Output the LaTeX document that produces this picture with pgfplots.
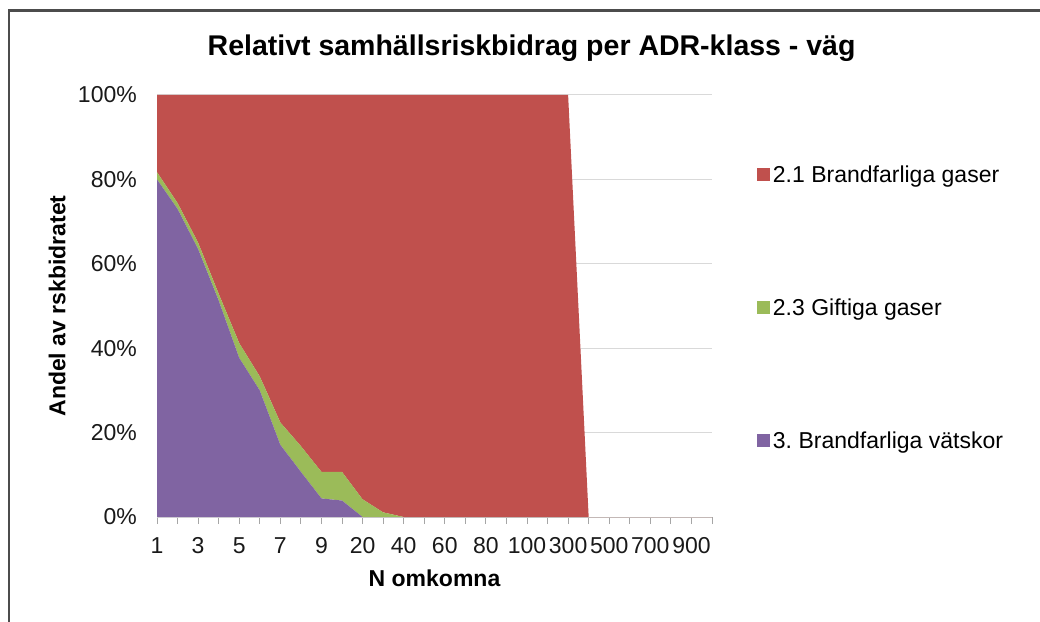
\documentclass[border=0pt]{standalone}
\usepackage{fontspec}
\setmainfont{Liberation Sans}
\usepackage{pgfplots}
\pgfplotsset{compat=1.18}
\definecolor{cRed}{HTML}{C0504D}
\definecolor{cGreen}{HTML}{9BBB59}
\definecolor{cPurple}{HTML}{8064A2}
\definecolor{cGrid}{HTML}{D9D9D9}
\begin{document}
\begin{tikzpicture}
\path[use as bounding box] (0pt,0pt) rectangle (1040pt,621pt);
\draw[line width=2.5pt, color=black!70] (9pt,-5pt) -- (9pt,610.5pt) -- (1045pt,610.5pt);
\begin{axis}[
  at={(157pt,104pt)}, anchor=south west,
  scale only axis, width=555pt, height=422pt,
  xmin=0, xmax=27, ymin=0, ymax=100,
  stack plots=y,
  xtick={0,...,27},
  xticklabels={1,,3,,5,,7,,9,,20,,40,,60,,80,,100,,300,,500,,700,,900,},
  ytick={0,20,40,60,80,100},
  yticklabels={0\%,20\%,40\%,60\%,80\%,100\%},
  axis x line*=bottom, axis y line*=left,
  y axis line style={draw=none},
  x axis line style={draw=cGrid, line width=1pt, -},
  ymajorgrids, grid style={draw=cGrid, line width=1pt},
  tick align=outside,
  major tick length=7pt,
  xtick style={draw=black!35, line width=0.8pt},
  ytick style={draw=none},
  tick label style={font=\fontsize{23}{27}\selectfont, text=black!90},
  yticklabel style={inner sep=0pt, xshift=-13pt},
  xticklabel style={inner sep=0pt, yshift=-13pt},
  xlabel={N omkomna},
  ylabel={Andel av rskbidratet},
  label style={font=\bfseries\fontsize{23}{27}\selectfont},
  xlabel style={at={(axis description cs:0.5,-0.1445)}, anchor=center},
  ylabel style={at={(axis description cs:-0.18,0.5)}, anchor=center, rotate=0},
  title={Relativt samhällsriskbidrag per ADR-klass - väg},
  title style={font=\bfseries\fontsize{28.5}{33}\selectfont, at={(axis description cs:0.675,1.097)}, anchor=center},
  legend style={at={(axis description cs:1.081,0.833)}, anchor=north west, draw=none, fill=none,
    inner sep=0pt, outer sep=0pt, row sep=115pt,
    nodes={inner sep=0pt}, font=\fontsize{23}{27}\selectfont,
    /tikz/every odd column/.append style={column sep=3pt}},
  legend cell align=left,
  reverse legend,
  legend image code/.code={\fill[#1] (0pt,-6.5pt) rectangle (13pt,6.5pt);},
]
\addplot[fill=cPurple, draw=none] coordinates {
(0,80.0) (1,73.0) (2,63.5) (3,51.3) (4,37.7) (5,30.0) (6,17.1) (7,10.7) (8,4.4) (9,3.9)
(10,0) (11,0) (12,0) (13,0) (14,0) (15,0) (16,0) (17,0) (18,0) (19,0) (20,0)
(21,0) (22,0) (23,0) (24,0) (25,0) (26,0) (27,0)} \closedcycle;
\addlegendentry{3.\ Brandfarliga vätskor}
\addplot[fill=cGreen, draw=none] coordinates {
(0,1.7) (1,1.4) (2,1.5) (3,1.6) (4,3.5) (5,3.3) (6,5.3) (7,6.1) (8,6.3) (9,6.8)
(10,4.2) (11,1.1) (12,0) (13,0) (14,0) (15,0) (16,0) (17,0) (18,0) (19,0) (20,0)
(21,0) (22,0) (23,0) (24,0) (25,0) (26,0) (27,0)} \closedcycle;
\addlegendentry{2.3 Giftiga gaser}
\addplot[fill=cRed, draw=none] coordinates {
(0,18.3) (1,25.6) (2,35.0) (3,47.1) (4,58.8) (5,66.7) (6,77.6) (7,83.2) (8,89.3) (9,89.3)
(10,95.8) (11,98.9) (12,100) (13,100) (14,100) (15,100) (16,100) (17,100) (18,100) (19,100) (20,100)
(21,0) (22,0) (23,0) (24,0) (25,0) (26,0) (27,0)} \closedcycle;
\addlegendentry{2.1 Brandfarliga gaser}
\end{axis}
\end{tikzpicture}
\end{document}
